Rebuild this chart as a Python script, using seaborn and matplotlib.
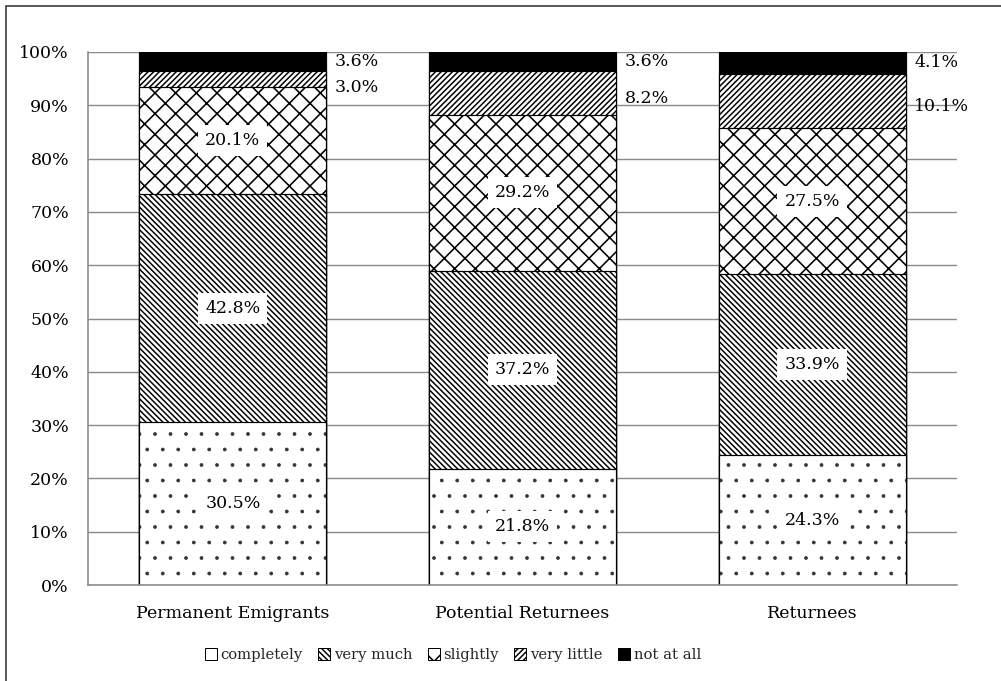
import numpy as np
import pandas as pd
import matplotlib
matplotlib.use("Agg")
import matplotlib.pyplot as plt
from matplotlib.patches import Patch, Rectangle
import seaborn as sns

# ---- data -------------------------------------------------------------
groups = ["Permanent Emigrants", "Potential Returnees", "Returnees"]
levels = ["completely", "very much", "slightly", "very little", "not at all"]
completely = [30.5, 21.8, 24.3]
very_much = [42.8, 37.2, 33.9]
slightly = [20.1, 29.2, 27.5]
very_little = [3.0, 8.2, 10.1]
not_at_all = [3.6, 3.6, 4.1]
y_ticks = [0, 10, 20, 30, 40, 50, 60, 70, 80, 90, 100]

# ---- geometry helpers -------------------------------------------------
# hatch patterns are defined per inch, so the resolution sets their pitch
DPI = 186
W, H = 1002, 681


def pt(pixels):
    """Convert a pixel length to points at the output resolution."""
    return pixels * 72.0 / DPI


sns.set_theme(style="white")
plt.rcParams["font.family"] = ["DejaVu Serif"]
plt.rcParams["hatch.linewidth"] = pt(1.5)

fig = plt.figure(figsize=(W / DPI, H / DPI), dpi=DPI)
ax = fig.add_axes([88 / W, 1 - 585 / H, (957 - 88) / W, (585 - 52) / H])

values = np.array([completely, very_much, slightly, very_little, not_at_all], dtype=float)
share = values / values.sum(axis=0) * 100.0      # 100 % stacked
tops = np.cumsum(share, axis=0)
bottoms = tops - share

styles = [
    dict(color="white", hatch="..", hatch_lw=pt(0.6), edge="#333333"),
    dict(color="white", hatch="\\" * 11, hatch_lw=pt(1.5), edge="black"),
    dict(color="white", hatch="xxx", hatch_lw=pt(1.6), edge="black"),
    dict(color="white", hatch="/" * 11, hatch_lw=pt(1.5), edge="black"),
    dict(color="black", hatch="", hatch_lw=pt(1.5), edge="black"),
]

BAR_W = 0.645
# Stack by drawing cumulative heights from the top layer downwards
for i in reversed(range(len(levels))):
    n_before = len(ax.patches)
    d = pd.DataFrame({"group": groups, "top": tops[i]})
    sns.barplot(
        data=d, x="group", y="top", ax=ax, width=BAR_W,
        color=styles[i]["color"], saturation=1, errorbar=None,
        hatch=styles[i]["hatch"], edgecolor=styles[i]["edge"],
        linewidth=pt(1.2), zorder=2,
    )
    for p in ax.patches[n_before:]:
        if hasattr(p, "set_hatch_linewidth"):
            p.set_hatch_linewidth(styles[i]["hatch_lw"])
        # keep the bar outline black even when the hatch is lighter
        p.set_edgecolor("black")
        p._hatch_color = matplotlib.colors.to_rgba(styles[i]["edge"])

# ---- value labels -----------------------------------------------------
FS = pt(17.4)
for g in range(len(groups)):
    for i in range(3):
        ax.text(g, bottoms[i, g] + share[i, g] / 2, f"{values[i, g]:.1f}%",
                ha="center", va="center", fontsize=FS, color="black",
                zorder=5,
                bbox=dict(facecolor="white", edgecolor="none", pad=pt(7)))
    # small top segments are labelled beside the bar
    y_top = bottoms[4, g] + share[4, g] / 2
    y_low = bottoms[3, g] + share[3, g] / 2 - 1.0
    y_low = min(y_low, y_top - 4.8)
    x_out = g + BAR_W / 2 + 0.03
    for yv, v in ((y_top, values[4, g]), (y_low, values[3, g])):
        ax.text(x_out, yv, f"{v:.1f}%", ha="left", va="center",
                fontsize=FS, color="black", zorder=5)

# ---- axes styling -----------------------------------------------------
ax.set_xlim(-0.5, len(groups) - 0.5)
ax.set_ylim(0, 100)
ax.set_yticks(y_ticks)
ax.set_yticklabels([f"{t}%" for t in y_ticks])
ax.set_xlabel("")
ax.set_ylabel("")
ax.yaxis.grid(True, color="#8a8a8a", linewidth=pt(1.4))
ax.xaxis.grid(False)
ax.set_axisbelow(True)
for side in ("top", "right"):
    ax.spines[side].set_visible(False)
for side in ("left", "bottom"):
    ax.spines[side].set_color("#8a8a8a")
    ax.spines[side].set_linewidth(pt(1.6))
ax.tick_params(axis="y", length=0, pad=pt(19), labelsize=FS, labelcolor="black")
ax.tick_params(axis="x", length=0, pad=pt(20), labelsize=FS, labelcolor="black")

# ---- legend -----------------------------------------------------------
handles = [Patch(facecolor=s["color"], edgecolor="black",
                 hatch=(s["hatch"] if s["hatch"] != ".." else ""),
                 linewidth=pt(1.0)) for s in styles]
fig.legend(handles, levels, loc="center", bbox_to_anchor=(453 / W, 1 - 655 / H),
           ncol=5, frameon=False, fontsize=pt(14.8), handlelength=0.8,
           handleheight=0.8, handletextpad=0.25, columnspacing=1.05)

# ---- chart frame ------------------------------------------------------
fig.add_artist(Rectangle((6 / W, -0.1), 1.2, (1 - 6 / H) + 0.1,
                         transform=fig.transFigure, fill=False,
                         edgecolor="#333333", linewidth=pt(1.6)))

fig.savefig("out.png", dpi=DPI)
